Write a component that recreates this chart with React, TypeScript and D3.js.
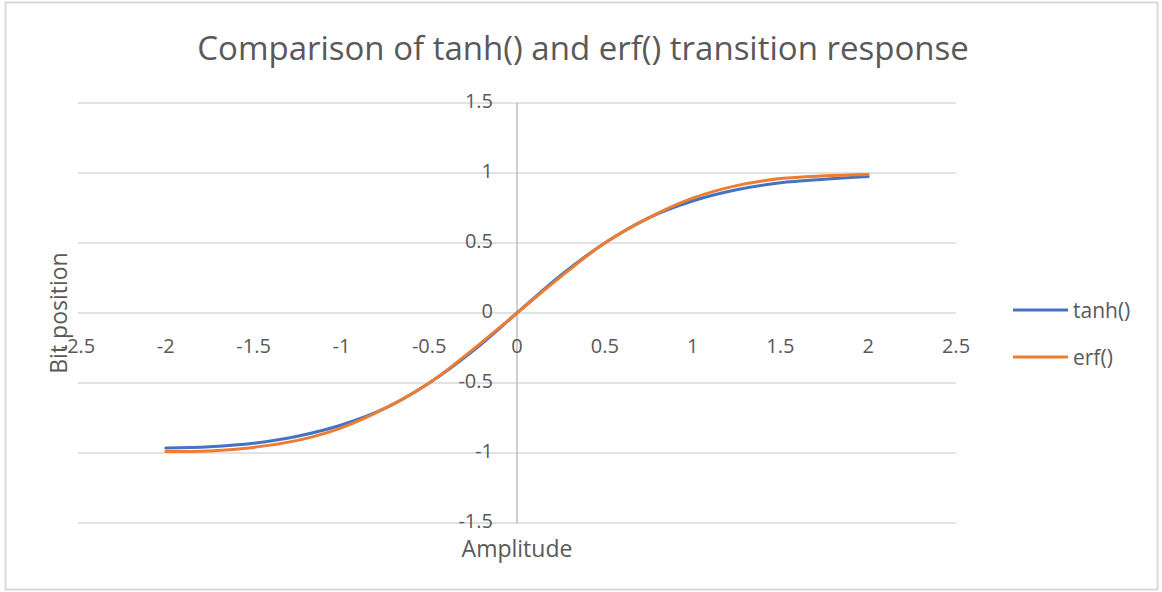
import { line, scaleLinear, curveCatmullRom } from 'd3'

const amplitude = [-2, -1.75, -1.5, -1.25, -1, -0.75, -0.5, -0.25, 0, 0.25, 0.5, 0.75, 1, 1.25, 1.5, 1.75, 2]
const tanhValues = [-0.965, -0.955, -0.93, -0.88, -0.8, -0.68, -0.5, -0.27, 0, 0.27, 0.5, 0.68, 0.8, 0.88, 0.93, 0.955, 0.975]
const erfValues = [-0.99, -0.985, -0.96, -0.91, -0.82, -0.68, -0.5, -0.26, 0, 0.26, 0.5, 0.68, 0.82, 0.91, 0.96, 0.98, 0.99]
const xTicks = [-2.5, -2, -1.5, -1, -0.5, 0, 0.5, 1, 1.5, 2, 2.5]
const yTicks = [-1.5, -1, -0.5, 0, 0.5, 1, 1.5]

const series = [
  { name: 'tanh()', values: tanhValues, color: '#4472C4' },
  { name: 'erf()', values: erfValues, color: '#ED7D31' },
]

const W = 1162
const H = 592
const font = '"Open Sans", sans-serif'
const textColor = '#595959'

export default function App() {
  const x = scaleLinear().domain([-2.5, 2.5]).range([78, 956])
  const y = scaleLinear().domain([-1.5, 1.5]).range([523, 103])

  const path = (vals: number[]) =>
    line<number>()
      .x((_, i) => x(amplitude[i]))
      .y((d) => y(d))
      .curve(curveCatmullRom)(vals) ?? ''

  return (
    <svg width={W} height={H} style={{ position: 'absolute', left: 0, top: 0 }} fontFamily={font}>
      <rect x={0} y={0} width={W} height={H} fill="#fff" />
      <rect x={5.5} y={2.5} width={1152} height={587} fill="none" stroke="#d9d9d9" strokeWidth={2} />

      <text x={583} y={47} textAnchor="middle" dominantBaseline="central" fontSize={33} fill={textColor}>
        Comparison of tanh() and erf() transition response
      </text>

      {yTicks.map((t) => (
        <line key={t} x1={x(-2.5)} x2={x(2.5)} y1={y(t)} y2={y(t)} stroke="#d9d9d9" strokeWidth={1.5} />
      ))}
      <line x1={x(0)} x2={x(0)} y1={y(1.5)} y2={y(-1.5)} stroke="#bfbfbf" strokeWidth={1.5} />

      {yTicks.map((t) => (
        <text key={t} x={x(0) - 24} y={y(t) - 3} textAnchor="end" dominantBaseline="central" fontSize={20} fill={textColor}>
          {t}
        </text>
      ))}
      {xTicks.map((t) => (
        <text key={t} x={x(t)} y={y(0) + 32} textAnchor="middle" dominantBaseline="central" fontSize={20} fill={textColor}>
          {t}
        </text>
      ))}

      {series.map((s) => (
        <path key={s.name} d={path(s.values)} fill="none" stroke={s.color} strokeWidth={3} strokeLinecap="round" />
      ))}

      <text x={x(0)} y={548} textAnchor="middle" dominantBaseline="central" fontSize={23} fill={textColor}>
        Amplitude
      </text>
      <text
        transform={`translate(58, ${y(0)}) rotate(-90)`}
        textAnchor="middle"
        dominantBaseline="central"
        fontSize={23}
        fill={textColor}
      >
        Bit position
      </text>

      {series.map((s, i) => (
        <g key={s.name} transform={`translate(1013, ${310 + i * 47})`}>
          <line x1={0} x2={55} y1={0} y2={0} stroke={s.color} strokeWidth={3} />
          <text x={60} y={0} dominantBaseline="central" fontSize={21} fill={textColor}>
            {s.name}
          </text>
        </g>
      ))}
    </svg>
  )
}
